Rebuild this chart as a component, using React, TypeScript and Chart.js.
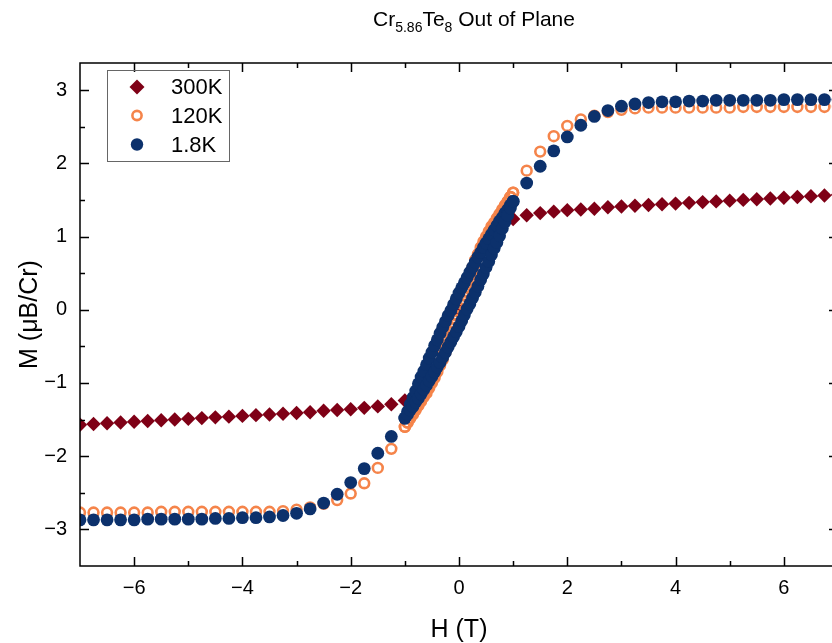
import React, { useEffect, useRef } from 'react';
import { Chart, registerables } from 'chart.js';

Chart.register(...registerables);

// ---------- text ----------
const TITLE_PARTS = [
  { text: 'Cr', sub: false },
  { text: '5.86', sub: true },
  { text: 'Te', sub: false },
  { text: '8', sub: true },
  { text: ' Out of Plane', sub: false },
];
const X_TITLE = 'H (T)';
const Y_TITLE = 'M (\u03BCB/Cr)';
const SERIES_LABELS = ['300K', '120K', '1.8K'];

// ---------- ticks ----------
const X_MAJOR = [-6, -4, -2, 0, 2, 4, 6];
const X_MINOR = [-5, -3, -1, 1, 3, 5];
const Y_MAJOR = [-3, -2, -1, 0, 1, 2, 3];
const Y_MINOR = [-2.5, -1.5, -0.5, 0.5, 1.5, 2.5];

// ---------- data ----------
// 300 K, full sweep (T)
const H_ALL = [-7, -6.75, -6.5, -6.25, -6, -5.75, -5.5, -5.25, -5, -4.75, -4.5, -4.25, -4, -3.75, -3.5, -3.25, -3, -2.75, -2.5, -2.25, -2, -1.75, -1.5, -1.25, -1, -0.75, -0.5, -0.25, 0, 0.25, 0.5, 0.75, 1, 1.25, 1.5, 1.75, 2, 2.25, 2.5, 2.75, 3, 3.25, 3.5, 3.75, 4, 4.25, 4.5, 4.75, 5, 5.25, 5.5, 5.75, 6, 6.25, 6.5, 6.75, 7];
const M_300K = [-1.57, -1.56, -1.55, -1.54, -1.53, -1.52, -1.51, -1.50, -1.49, -1.48, -1.47, -1.46, -1.45, -1.44, -1.43, -1.42, -1.41, -1.40, -1.38, -1.37, -1.36, -1.34, -1.32, -1.29, -1.24, -1.14, -0.92, -0.50, 0, 0.50, 0.92, 1.14, 1.24, 1.29, 1.32, 1.34, 1.36, 1.37, 1.38, 1.40, 1.41, 1.42, 1.43, 1.44, 1.45, 1.46, 1.47, 1.48, 1.49, 1.50, 1.51, 1.52, 1.53, 1.54, 1.55, 1.56, 1.57];

// high-field wings
const H_WING_NEG = [-7, -6.75, -6.5, -6.25, -6, -5.75, -5.5, -5.25, -5, -4.75, -4.5, -4.25, -4, -3.75, -3.5, -3.25, -3, -2.75, -2.5, -2.25, -2, -1.75, -1.5, -1.25];
const H_WING_POS = [1.25, 1.5, 1.75, 2, 2.25, 2.5, 2.75, 3, 3.25, 3.5, 3.75, 4, 4.25, 4.5, 4.75, 5, 5.25, 5.5, 5.75, 6, 6.25, 6.5, 6.75, 7];
// low-field loop
const H_LOOP = [-1, -0.95, -0.9, -0.85, -0.8, -0.75, -0.7, -0.65, -0.6, -0.55, -0.5, -0.45, -0.4, -0.35, -0.3, -0.25, -0.2, -0.15, -0.1, -0.05, 0, 0.05, 0.1, 0.15, 0.2, 0.25, 0.3, 0.35, 0.4, 0.45, 0.5, 0.55, 0.6, 0.65, 0.7, 0.75, 0.8, 0.85, 0.9, 0.95, 1];

const M_120K_NEG = [-2.77, -2.77, -2.77, -2.77, -2.77, -2.77, -2.76, -2.76, -2.76, -2.76, -2.76, -2.76, -2.76, -2.76, -2.76, -2.75, -2.73, -2.70, -2.65, -2.60, -2.51, -2.37, -2.16, -1.90];
const M_120K_POS = [1.90, 2.16, 2.37, 2.51, 2.60, 2.65, 2.70, 2.73, 2.75, 2.76, 2.76, 2.76, 2.76, 2.76, 2.76, 2.76, 2.77, 2.77, 2.77, 2.77, 2.77, 2.77, 2.77, 2.77];
const M_120K_DOWN = [-1.60, -1.54, -1.48, -1.41, -1.35, -1.29, -1.23, -1.17, -1.10, -1.03, -0.96, -0.89, -0.81, -0.72, -0.62, -0.52, -0.41, -0.30, -0.19, -0.08, 0.03, 0.14, 0.25, 0.36, 0.47, 0.58, 0.68, 0.76, 0.85, 0.93, 1.00, 1.07, 1.14, 1.19, 1.25, 1.31, 1.37, 1.43, 1.48, 1.54, 1.60];
const M_120K_UP = [-1.60, -1.54, -1.48, -1.43, -1.37, -1.31, -1.25, -1.19, -1.14, -1.07, -1.00, -0.93, -0.85, -0.76, -0.68, -0.58, -0.47, -0.36, -0.25, -0.14, -0.03, 0.08, 0.19, 0.30, 0.41, 0.52, 0.62, 0.72, 0.81, 0.89, 0.96, 1.03, 1.10, 1.17, 1.23, 1.29, 1.35, 1.41, 1.48, 1.54, 1.60];

const M_18K_NEG = [-2.87, -2.87, -2.87, -2.87, -2.87, -2.86, -2.86, -2.86, -2.86, -2.86, -2.85, -2.85, -2.84, -2.84, -2.83, -2.81, -2.78, -2.72, -2.64, -2.52, -2.36, -2.17, -1.96, -1.73];
const M_18K_POS = [1.73, 1.96, 2.17, 2.36, 2.52, 2.64, 2.72, 2.78, 2.81, 2.83, 2.84, 2.84, 2.85, 2.85, 2.86, 2.86, 2.86, 2.86, 2.86, 2.87, 2.87, 2.87, 2.87, 2.87];
const M_18K_DOWN = [-1.48, -1.39, -1.29, -1.20, -1.11, -1.01, -0.92, -0.84, -0.75, -0.66, -0.58, -0.49, -0.41, -0.32, -0.24, -0.16, -0.08, -0.01, 0.07, 0.15, 0.23, 0.30, 0.37, 0.44, 0.51, 0.58, 0.65, 0.72, 0.78, 0.85, 0.91, 0.97, 1.03, 1.09, 1.15, 1.21, 1.26, 1.32, 1.37, 1.43, 1.48];
const M_18K_UP = [-1.48, -1.43, -1.37, -1.32, -1.26, -1.21, -1.15, -1.09, -1.03, -0.97, -0.91, -0.85, -0.78, -0.72, -0.65, -0.58, -0.51, -0.44, -0.37, -0.30, -0.23, -0.15, -0.07, 0.01, 0.08, 0.16, 0.24, 0.32, 0.41, 0.49, 0.58, 0.66, 0.75, 0.84, 0.92, 1.01, 1.11, 1.20, 1.29, 1.39, 1.48];

// ---------- style ----------
const C_300 = '#7f0016';
const C_120 = '#f5844a';
const C_18 = '#0c316c';
const FONT = '"Liberation Sans", Arial, Helvetica, sans-serif';

const zip = (xs: number[], ys: number[]) => xs.map((x, i) => ({ x, y: ys[i] }));
const fmt = (v: number) => (v < 0 ? '\u2212' + String(Math.abs(v)) : String(v));

const overlay = {
  id: 'overlay',
  afterDraw(chart: any) {
    const { ctx, chartArea: a, scales } = chart;
    const xs = scales.x;
    const ys = scales.y;
    ctx.save();
    // frame
    ctx.strokeStyle = '#000';
    ctx.lineWidth = 1.5;
    ctx.strokeRect(a.left, a.top, a.right - a.left, a.bottom - a.top);
    // ticks
    ctx.beginPath();
    const xt = (vals: number[], len: number) => {
      for (const v of vals) {
        const p = Math.round(xs.getPixelForValue(v)) + 0.5;
        ctx.moveTo(p, a.bottom); ctx.lineTo(p, a.bottom - len);
        ctx.moveTo(p, a.top); ctx.lineTo(p, a.top + len);
      }
    };
    const yt = (vals: number[], len: number) => {
      for (const v of vals) {
        const p = Math.round(ys.getPixelForValue(v)) + 0.5;
        ctx.moveTo(a.left, p); ctx.lineTo(a.left + len, p);
        ctx.moveTo(a.right, p); ctx.lineTo(a.right - len, p);
      }
    };
    xt(X_MAJOR, 9); xt(X_MINOR, 5); yt(Y_MAJOR, 9); yt(Y_MINOR, 5);
    ctx.stroke();

    // tick labels
    ctx.fillStyle = '#000';
    ctx.font = `20px ${FONT}`;
    ctx.textAlign = 'center';
    ctx.textBaseline = 'middle';
    for (const v of X_MAJOR) ctx.fillText(fmt(v), xs.getPixelForValue(v), a.bottom + 22);
    ctx.textAlign = 'right';
    for (const v of Y_MAJOR) ctx.fillText(fmt(v), a.left - 13, ys.getPixelForValue(v));

    // axis titles
    ctx.font = `25px ${FONT}`;
    ctx.textAlign = 'center';
    ctx.textBaseline = 'alphabetic';
    ctx.fillText(X_TITLE, xs.getPixelForValue(0), 637);
    ctx.save();
    ctx.translate(37, (a.top + a.bottom) / 2);
    ctx.rotate(-Math.PI / 2);
    ctx.fillText(Y_TITLE, 0, 0);
    ctx.restore();

    // title with subscripts
    const mainF = `21px ${FONT}`;
    const subF = `14px ${FONT}`;
    let total = 0;
    for (const p of TITLE_PARTS) { ctx.font = p.sub ? subF : mainF; total += ctx.measureText(p.text).width; }
    let x = 474 - total / 2;
    ctx.textAlign = 'left';
    for (const p of TITLE_PARTS) {
      ctx.font = p.sub ? subF : mainF;
      ctx.fillText(p.text, x, p.sub ? 32 : 26);
      x += ctx.measureText(p.text).width;
    }

    // legend
    ctx.strokeStyle = '#666';
    ctx.lineWidth = 1;
    ctx.strokeRect(107.5, 70.5, 122, 91);
    const ly = [87, 115.5, 144.5];
    const mx = 137;
    ctx.fillStyle = C_300;
    ctx.beginPath();
    ctx.moveTo(mx - 7.5, ly[0]); ctx.lineTo(mx, ly[0] - 7.5); ctx.lineTo(mx + 7.5, ly[0]); ctx.lineTo(mx, ly[0] + 7.5);
    ctx.closePath(); ctx.fill();
    ctx.strokeStyle = C_120; ctx.lineWidth = 2.6;
    ctx.beginPath(); ctx.arc(mx, ly[1], 4.6, 0, Math.PI * 2); ctx.stroke();
    ctx.fillStyle = C_18;
    ctx.beginPath(); ctx.arc(mx, ly[2], 6.2, 0, Math.PI * 2); ctx.fill();
    ctx.fillStyle = '#000';
    ctx.font = `22px ${FONT}`;
    ctx.textBaseline = 'middle';
    SERIES_LABELS.forEach((t, i) => ctx.fillText(t, 171, ly[i] + 1));
    ctx.restore();
  },
};

export default function App() {
  const ref = useRef<HTMLCanvasElement | null>(null);
  useEffect(() => {
    if (!ref.current) return;
    const chart = new Chart(ref.current, {
      type: 'scatter',
      data: {
        datasets: [
          {
            label: SERIES_LABELS[2],
            data: [
              ...zip(H_WING_NEG, M_18K_NEG),
              ...zip(H_LOOP, M_18K_DOWN),
              ...zip(H_LOOP, M_18K_UP),
              ...zip(H_WING_POS, M_18K_POS),
            ],
            pointStyle: 'circle',
            pointRadius: 6.4,
            pointBorderWidth: 0,
            backgroundColor: C_18,
            borderColor: C_18,
            order: 1,
            clip: 0,
          },
          {
            label: SERIES_LABELS[1],
            data: [
              ...zip(H_WING_NEG, M_120K_NEG),
              ...zip(H_LOOP, M_120K_DOWN),
              ...zip(H_LOOP, M_120K_UP),
              ...zip(H_WING_POS, M_120K_POS),
            ],
            pointStyle: 'circle',
            pointRadius: 4.9,
            pointBorderWidth: 2.6,
            backgroundColor: 'rgba(255,255,255,0)',
            borderColor: C_120,
            order: 2,
            clip: 0,
          },
          {
            label: SERIES_LABELS[0],
            data: zip(H_ALL, M_300K),
            pointStyle: 'rectRot',
            pointRadius: 7.2,
            pointBorderWidth: 0,
            backgroundColor: C_300,
            borderColor: C_300,
            order: 3,
            clip: 0,
          },
        ],
      },
      options: {
        responsive: false,
        maintainAspectRatio: false,
        animation: false,
        devicePixelRatio: 1,
        events: [],
        layout: { padding: { top: 63, right: 22, left: 0, bottom: 0 } },
        plugins: { legend: { display: false }, title: { display: false }, tooltip: { enabled: false } },
        scales: {
          x: {
            type: 'linear',
            min: -7,
            max: 7,
            ticks: { display: false },
            grid: { display: false },
            border: { display: false },
            afterFit: (s: any) => { s.height = 77; },
          },
          y: {
            type: 'linear',
            min: -3.5,
            max: 3.37,
            ticks: { display: false },
            grid: { display: false },
            border: { display: false },
            afterFit: (s: any) => { s.width = 80; },
          },
        },
      },
      plugins: [overlay],
    } as any);
    return () => chart.destroy();
  }, []);
  return (
    <div style={{ position: 'fixed', left: 0, top: 0, width: 832, height: 643, overflow: 'hidden', background: '#fff' }}>
      <canvas ref={ref} width={860} height={643} style={{ display: 'block', width: 860, height: 643 }} />
    </div>
  );
}
